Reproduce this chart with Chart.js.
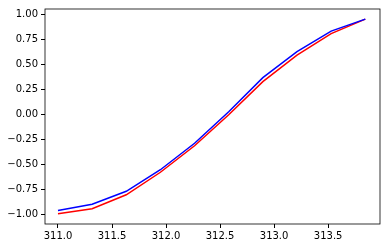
<!DOCTYPE html>
<html>
<head>
<meta charset="utf-8">
<script src="https://cdn.jsdelivr.net/npm/chart.js@4"></script>
<style>
    html, body { margin: 0; padding: 0; background: #fff; }
    #wrap { width: 386px; height: 248px; }
</style>
</head>
<body>
<div id="wrap"><canvas id="lineChart" width="386" height="248"></canvas></div>
<script>
// Data
const xValues = [311.0, 311.316, 311.632, 311.948, 312.264, 312.58, 312.896, 313.212, 313.528, 313.844];
const blueValues = [-0.957, -0.895, -0.765, -0.55, -0.285, 0.03, 0.37, 0.63, 0.835, 0.955];
const redValues = [-0.99, -0.94, -0.80, -0.575, -0.31, 0.0, 0.33, 0.595, 0.81, 0.955];
const xTicks = [311.0, 311.5, 312.0, 312.5, 313.0, 313.5];
const yTicks = [-1.0, -0.75, -0.5, -0.25, 0.0, 0.25, 0.5, 0.75, 1.0];

const toPoints = (ys) => xValues.map((x, i) => ({ x: x, y: ys[i] }));
const fmt = (v, d) => v.toFixed(d).replace('-', '\u2212');

// Draw the matplotlib style frame round the plot area
const framePlugin = {
    id: 'frame',
    afterDatasetsDraw(chart) {
        const { ctx, chartArea } = chart;
        ctx.save();
        ctx.strokeStyle = '#000';
        ctx.lineWidth = 0.8;
        ctx.strokeRect(chartArea.left, chartArea.top,
            chartArea.right - chartArea.left, chartArea.bottom - chartArea.top);
        ctx.restore();
    }
};

const tickFont = { family: 'DejaVu Sans', size: 10 };

new Chart(document.getElementById('lineChart').getContext('2d'), {
    type: 'line',
    data: {
        datasets: [
            {
                data: toPoints(blueValues),
                borderColor: '#0000ff',
                borderWidth: 1.5,
                pointRadius: 0,
                tension: 0
            },
            {
                data: toPoints(redValues),
                borderColor: '#ff0000',
                borderWidth: 1.5,
                pointRadius: 0,
                tension: 0
            }
        ]
    },
    options: {
        responsive: false,
        animation: false,
        events: [],
        layout: { padding: { top: 6, right: 6, left: 0, bottom: 0 } },
        plugins: {
            legend: { display: false },
            tooltip: { enabled: false }
        },
        scales: {
            x: {
                type: 'linear',
                min: 310.88,
                max: 313.98,
                afterBuildTicks: (scale) => { scale.ticks = xTicks.map(v => ({ value: v })); },
                afterFit: (scale) => { scale.height = 24; },
                border: { display: false },
                grid: {
                    drawOnChartArea: false,
                    drawTicks: true,
                    tickLength: 4,
                    color: '#000'
                },
                ticks: {
                    color: '#000',
                    font: tickFont,
                    padding: 2,
                    maxRotation: 0,
                    autoSkip: false,
                    callback: (v) => fmt(v, 1)
                }
            },
            y: {
                min: -1.092,
                max: 1.056,
                afterBuildTicks: (scale) => { scale.ticks = yTicks.map(v => ({ value: v })); },
                afterFit: (scale) => { scale.width = 45; },
                border: { display: false },
                grid: {
                    drawOnChartArea: false,
                    drawTicks: true,
                    tickLength: 4,
                    color: '#000'
                },
                ticks: {
                    color: '#000',
                    font: tickFont,
                    padding: 3,
                    autoSkip: false,
                    callback: (v) => fmt(v, 2)
                }
            }
        }
    },
    plugins: [framePlugin]
});
</script>
</body>
</html>
